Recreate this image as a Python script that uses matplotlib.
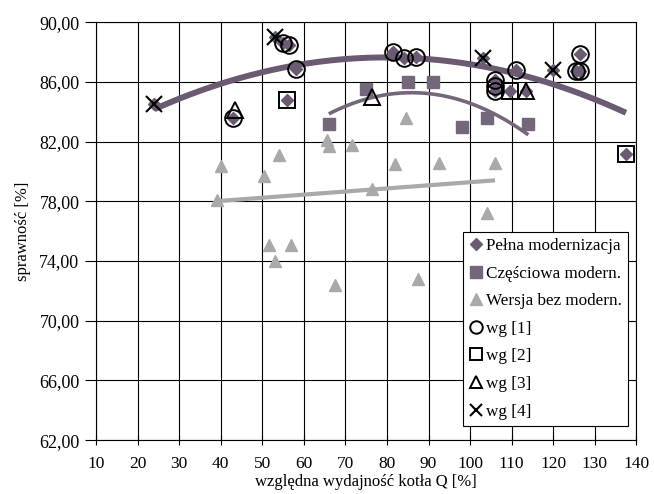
import numpy as np
import matplotlib
matplotlib.use("Agg")
import matplotlib.pyplot as plt
from matplotlib.lines import Line2D
from matplotlib.ticker import FuncFormatter, MultipleLocator

plt.rcParams['font.family'] = ['Liberation Serif', 'DejaVu Serif']

# Pełna modernizacja (romby)
full_x = [24, 43, 53, 55, 56.5, 58, 56, 81.5, 84, 87, 103, 106, 106, 106,
          109.5, 111, 113.5, 120, 126.5, 125.5, 126.5, 137.5]
full_y = [84.5, 83.6, 89.0, 88.6, 88.5, 86.9, 84.8, 88.0, 87.6, 87.7, 87.6, 86.1, 85.7, 85.4,
          85.4, 86.8, 85.4, 86.8, 87.9, 86.7, 86.7, 81.2]

# Częściowa modernizacja (kwadraty)
part_x = [66, 75, 85, 91, 98, 104, 114]
part_y = [83.2, 85.5, 86.0, 86.0, 83.0, 83.6, 83.2]

# Wersja bez modernizacji (trójkąty)
none_x = [39, 40, 50.5, 51.5, 53, 54, 57, 65.5, 66, 71.5, 67.5, 76.5, 82, 84.5,
          87.5, 92.5, 104, 106]
none_y = [78.1, 80.4, 79.7, 75.1, 74.0, 81.1, 75.1, 82.1, 81.7, 81.8, 72.4, 78.8, 80.5, 83.6,
          72.8, 80.6, 77.2, 80.6]

# źródła danych
ref1_x = [43, 55, 56.5, 58, 81.5, 84, 87, 106, 106, 106, 111, 126.5, 125.5, 126.5]
ref1_y = [83.6, 88.6, 88.5, 86.9, 88.0, 87.6, 87.7, 86.1, 85.7, 85.4, 86.8, 87.9, 86.7, 86.7]
ref2_x = [56, 109.5, 137.5]
ref2_y = [84.8, 85.4, 81.2]
ref3_x = [43.5, 113.5, 76.5]
ref3_y = [84.1, 85.4, 85.0]
ref4_x = [24, 53, 103, 120]
ref4_y = [84.5, 89.0, 87.6, 86.8]

y_ticks = [62, 66, 70, 74, 78, 82, 86, 90]

c_full = '#6b5b72'
c_part = '#74677a'
c_none = '#a9a9a9'

fig = plt.figure(figsize=(6.54, 4.94), dpi=100)
ax = fig.add_axes([0.147, 0.109, 0.826, 0.846])

# linie trendu (wielomiany dopasowane do danych)
for xs, ys, deg, col, lw in [(full_x, full_y, 2, c_full, 4.3),
                             (part_x, part_y, 2, c_part, 2.6),
                             (none_x, none_y, 1, c_none, 3.0)]:
    coef = np.polyfit(xs, ys, deg)
    xx = np.linspace(min(xs), max(xs), 200)
    ax.plot(xx, np.polyval(coef, xx), color=col, lw=lw, solid_capstyle='butt', zorder=3)

ax.plot(none_x, none_y, '^', color=c_none, ms=9, mec=c_none, ls='none', zorder=4)
ax.plot(part_x, part_y, 's', color=c_part, ms=8.5, mec=c_part, ls='none', zorder=4)
ax.plot(full_x, full_y, 'D', color=c_full, ms=6.5, mec=c_full, ls='none', zorder=5)

ax.plot(ref1_x, ref1_y, 'o', mfc='none', mec='black', ms=12, mew=1.4, ls='none', zorder=6)
ax.plot(ref2_x, ref2_y, 's', mfc='none', mec='black', ms=11, mew=1.4, ls='none', zorder=6)
ax.plot(ref3_x, ref3_y, '^', mfc='none', mec='black', ms=11, mew=1.4, ls='none', zorder=6)
ax.plot(ref4_x, ref4_y, 'x', color='black', ms=11, mew=1.5, ls='none', zorder=6)

ax.set_xlim(10, 140)
ax.set_ylim(62, 90)
ax.xaxis.set_major_locator(MultipleLocator(10))
ax.set_yticks(y_ticks)
ax.yaxis.set_major_formatter(FuncFormatter(lambda v, p: f'{v:.2f}'.replace('.', ',')))
ax.grid(True, color='black', lw=0.8)
ax.set_axisbelow(True)
for s in ax.spines.values():
    s.set_linewidth(0.8)
ax.tick_params(axis='y', labelsize=13, length=8, width=0.8, color='black', pad=4)
ax.tick_params(axis='x', labelsize=12.5, length=7, width=0.8, color='black',
               direction='inout', pad=8)

ax.set_xlabel('względna wydajność kotła Q [%]', fontsize=12, labelpad=1)
ax.set_ylabel('sprawność [%]', fontsize=12, labelpad=6)

handles = [
    Line2D([], [], marker='D', color=c_full, ls='none', ms=6.5),
    Line2D([], [], marker='s', color=c_part, ls='none', ms=8.5),
    Line2D([], [], marker='^', color=c_none, ls='none', ms=9),
    Line2D([], [], marker='o', mfc='none', mec='black', ls='none', ms=9, mew=1.4),
    Line2D([], [], marker='s', mfc='none', mec='black', ls='none', ms=9, mew=1.4),
    Line2D([], [], marker='^', mfc='none', mec='black', ls='none', ms=9, mew=1.4),
    Line2D([], [], marker='x', color='black', ls='none', ms=9, mew=1.5),
]
labels = ['Pełna modernizacja', 'Częściowa modern.', 'Wersja bez modern.',
          'wg [1]', 'wg [2]', 'wg [3]', 'wg [4]']
leg = ax.legend(handles, labels, loc='upper left', bbox_to_anchor=(0.679, 0.498),
                fontsize=12.3, frameon=True, fancybox=False, framealpha=1,
                edgecolor='black', handlelength=0.8, handletextpad=0.2,
                labelspacing=0.68, borderpad=0.35, borderaxespad=0)
leg.get_frame().set_linewidth(0.8)
leg.set_zorder(10)

fig.savefig('out.png', dpi=100)
